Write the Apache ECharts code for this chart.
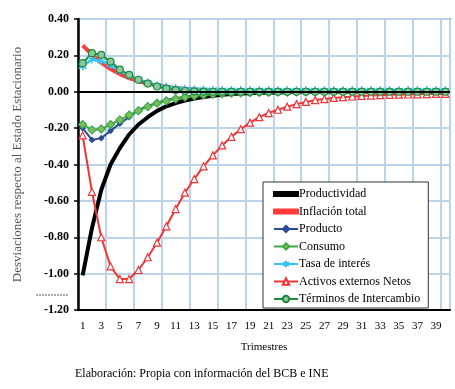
<!DOCTYPE html>
<html>
<head>
<meta charset="utf-8">
<script src="https://cdn.jsdelivr.net/npm/echarts@6/dist/echarts.min.js"></script>
<style>
html,body{margin:0;padding:0;background:#fff;}
#chart{width:455px;height:389px;}
</style>
</head>
<body>
<div id="chart"></div>
<script>
var categories = [];
for (var i = 1; i <= 40; i++) categories.push(String(i));

var productividad = [-1.01,-0.75,-0.54,-0.40,-0.31,-0.235,-0.18,-0.14,-0.105,-0.08,-0.062,-0.048,-0.037,-0.029,-0.022,-0.017,-0.013,-0.010,-0.008,-0.006,-0.005,-0.004,-0.003,-0.002,-0.002,-0.001,-0.001,-0.001,-0.001,0,0,0,0,0,0,0,0,0,0,0];
var inflacion = [0.255,0.205,0.16,0.125,0.097,0.075,0.058,0.045,0.035,0.027,0.021,0.016,0.012,0.009,0.007,0.005,0.004,0.003,0.002,0.002,0.001,0.001,0.001,0,0,0,0,0,0,0,0,0,0,0,0,0,0,0,0,0];
var producto = [-0.20,-0.265,-0.255,-0.215,-0.175,-0.14,-0.10,-0.078,-0.06,-0.045,-0.035,-0.027,-0.021,-0.016,-0.012,-0.009,-0.007,-0.005,-0.004,-0.003,-0.002,-0.002,-0.001,-0.001,-0.001,0,0,0,0,0,0,0,0,0,0,0,0,0,0,0];
var consumo = [-0.18,-0.21,-0.205,-0.18,-0.155,-0.128,-0.104,-0.082,-0.063,-0.05,-0.039,-0.03,-0.023,-0.018,-0.014,-0.011,-0.008,-0.006,-0.005,-0.004,-0.003,-0.002,-0.002,-0.001,-0.001,-0.001,0,0,0,0,0,0,0,0,0,0,0,0,0,0];
var tasa = [0.139,0.178,0.168,0.148,0.115,0.088,0.068,0.05,0.036,0.027,0.02,0.016,0.013,0.012,0.011,0.01,0.01,0.009,0.009,0.009,0.009,0.008,0.008,0.008,0.008,0.008,0.008,0.008,0.008,0.008,0.008,0.008,0.008,0.008,0.008,0.008,0.008,0.008,0.008,0.008];
var activos = [-0.24,-0.55,-0.80,-0.96,-1.03,-1.03,-0.98,-0.91,-0.83,-0.74,-0.645,-0.555,-0.48,-0.41,-0.35,-0.295,-0.248,-0.206,-0.17,-0.14,-0.117,-0.099,-0.082,-0.068,-0.056,-0.046,-0.04,-0.034,-0.03,-0.026,-0.023,-0.021,-0.019,-0.017,-0.016,-0.015,-0.014,-0.013,-0.012,-0.012];
var terminos = [0.157,0.212,0.203,0.166,0.122,0.093,0.066,0.045,0.029,0.017,0.009,0.004,0.002,0.001,0,0,0,0,0,0,0,0,0,0,0,0,0,0,0,0,0,0,0,0,0,0,0,0,0,0];

var yMin = -1.2, yMax = 0.4, yStep = 0.2;
var yName = 'Desviaciones respecto al Estado Estacionario';
var xName = 'Trimestres';
var footer = 'Elaboración: Propia con información del BCB e INE';

var serif = '"Liberation Serif","DejaVu Serif",serif';
var chart = echarts.init(document.getElementById('chart'));

function mk(name, data, color, width, symbol, size, fill, z) {
  return {
    name: name, type: 'line', data: data, z: z,
    lineStyle: {color: color, width: width},
    itemStyle: {color: fill, borderColor: color, borderWidth: 1.2},
    symbol: symbol, symbolSize: size, showSymbol: symbol !== 'none', showAllSymbol: true,
    animation: false
  };
}

var starPath = 'path://M0,-10L0,10M-9,-5L9,5M-9,5L9,-5';
var series = [
  mk('Productividad', productividad, '#000000', 4, 'none', 0, '#000', 3),
  mk('Inflación total', inflacion, '#FF3B3B', 4, 'none', 0, '#FF3B3B', 3),
  mk('Producto', producto, '#2B4C92', 2, 'diamond', 5, '#2B4C92', 4),
  mk('Consumo', consumo, '#3FA84A', 2, 'diamond', 8, '#7CC05A', 4),
  mk('Tasa de interés', tasa, '#33C5F3', 2.5, starPath, 8, '#33C5F3', 4),
  mk('Activos externos Netos', activos, '#F03535', 2, 'triangle', 7, '#FFFFFF', 4),
  mk('Términos de Intercambio', terminos, '#1F8A3C', 2, 'circle', 7, '#8CC89A', 4)
];
series[4].itemStyle = {color: '#33C5F3', borderColor: '#33C5F3', borderWidth: 1.5};
series[0].markLine = {
  silent: true, symbol: 'none', animation: false,
  label: {show: false},
  lineStyle: {color: '#000', width: 2, type: 'solid'},
  data: [{yAxis: 0}]
};

var lineIcon = 'path://M0,0h40v7h-40z';
var legendData = series.map(function(s){
  var d = {name: s.name};
  if (s.symbol === 'none') d.icon = lineIcon;
  return d;
});

chart.setOption({
  backgroundColor: '#fff',
  animation: false,
  grid: {left: 78, right: 5, top: 19, bottom: 79, show: true, borderColor: '#222', borderWidth: 1.5, backgroundColor: 'transparent'},
  legend: {
    orient: 'vertical', left: 263, top: 182, width: 186, height: 125,
    padding: [6, 8, 3, 10],
    itemGap: 5.5, itemWidth: 24, itemHeight: 8,
    backgroundColor: '#fff', borderColor: '#333', borderWidth: 1,
    textStyle: {fontFamily: serif, fontSize: 12, color: '#000', padding: [0,0,0,-4]},
    data: legendData
  },
  xAxis: {
    type: 'category', data: categories, boundaryGap: true,
    name: xName, nameLocation: 'middle', nameGap: 32,
    nameTextStyle: {fontFamily: serif, fontSize: 11, color: '#000'},
    axisLine: {onZero: false, lineStyle: {color: '#000', width: 2}},
    axisTick: {show: false},
    axisLabel: {interval: 1, fontFamily: serif, fontSize: 11, color: '#000', margin: 11},
    splitLine: {show: true, interval: 2, lineStyle: {color: '#BCD3EC', width: 2}}
  },
  yAxis: {
    type: 'value', min: yMin, max: yMax, interval: yStep,
    name: yName, nameLocation: 'middle', nameGap: 54,
    nameTextStyle: {fontFamily: serif, fontSize: 13, color: '#555'},
    axisLine: {show: true, lineStyle: {color: '#000', width: 2.5}},
    axisTick: {show: true, length: 4, lineStyle: {color: '#000', width: 1.5}},
    axisLabel: {fontFamily: serif, fontSize: 12, fontWeight: 'bold', color: '#000', margin: 9,
      formatter: function(v){return v.toFixed(2);}},
    splitLine: {show: true, lineStyle: {color: '#BCD3EC', width: 2}}
  },
  graphic: [
    {type: 'text', left: 75, top: 368, style: {text: footer, font: '12px ' + serif, fill: '#000'}},
    {type: 'line', shape: {x1: 36, y1: 295, x2: 68, y2: 295}, style: {stroke: '#555', lineWidth: 1, lineDash: [2, 1]}}
  ],
  series: series
});
</script>
</body>
</html>
